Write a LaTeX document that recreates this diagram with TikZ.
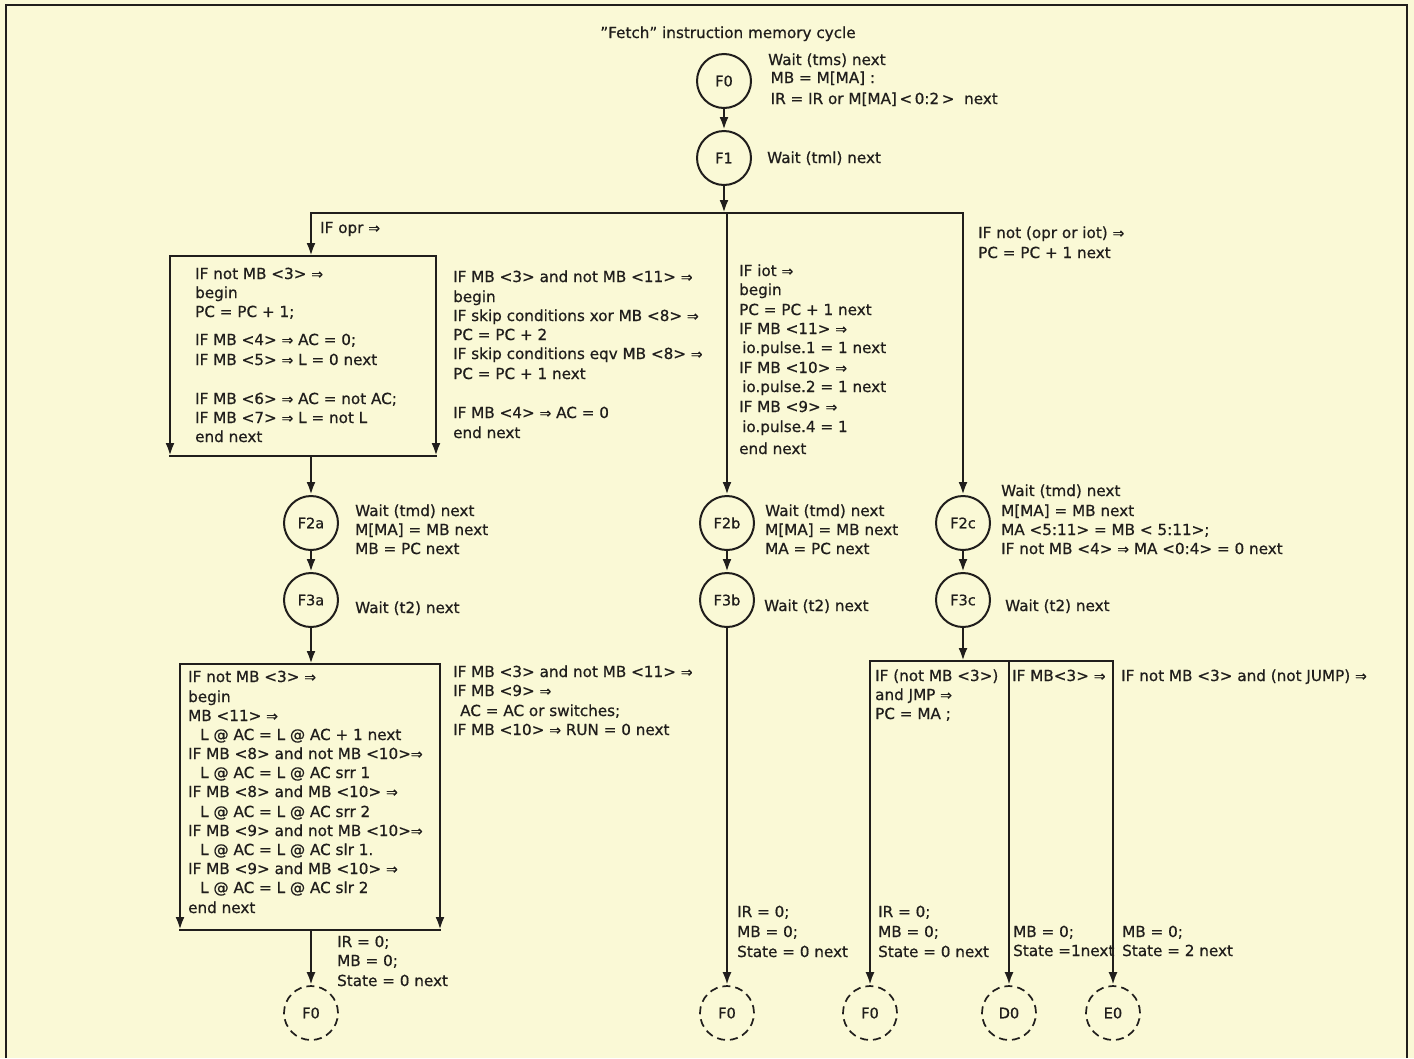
\documentclass[tikz,border=0pt]{standalone}
\usepackage{fontspec}
\setmainfont{DejaVu Sans}[FakeBold=0.7]
\usetikzlibrary{arrows.meta}
\definecolor{bg}{RGB}{250,249,214}
\definecolor{ink}{RGB}{32,30,28}
\newcommand\thn{{\fontsize{14}{14}\selectfont ⇒}}
\newcommand\txtblock[3]{%
  \foreach \ly/\lt [count=\li] in {#3} {\node[txt] (#1-\li) at (#2,\ly) {\lt};}}
\tikzset{
  txt/.style={anchor=base west, inner sep=0pt, text=ink, font=\fontsize{15.2}{18}\selectfont},
  state/.style={circle, draw=ink, line width=2pt, minimum size=54pt, inner sep=0pt,
    font=\fontsize{14.5}{17}\selectfont, text=ink},
  ghost/.style={state, dash pattern=on 8pt off 5pt, line width=1.7pt},
  flow/.style={draw=ink, line width=2.6pt, line cap=rect},
  flowa/.style={draw=ink, line width=2.6pt, -{Latex[length=13pt,width=9pt]}},
}
\begin{document}
\begin{tikzpicture}[x=1pt,y=-1pt]
\useasboundingbox (0,0) rectangle (1414,1058);
\fill[bg] (0,0) rectangle (1414,1058);
\draw[ink, line width=1.5pt] (6,1058) -- (6,5) -- (1407,5) -- (1407,1058);

% title
\node[txt, anchor=base] (title) at (728,38) {''Fetch'' instruction memory cycle};

% states
\node[state] (F0) at (724,81) {F0};
\node[state] (F1) at (724,158) {F1};
\node[state] (F2a) at (311,523) {F2a};
\node[state] (F3a) at (311,600) {F3a};
\node[state] (F2b) at (727,523) {F2b};
\node[state] (F3b) at (727,600) {F3b};
\node[state] (F2c) at (963,523) {F2c};
\node[state] (F3c) at (963,600) {F3c};
\node[ghost] (eF0a) at (311,1013) {F0};
\node[ghost] (eF0b) at (727,1013) {F0};
\node[ghost] (eF0c) at (870,1013) {F0};
\node[ghost] (eD0) at (1009,1013) {D0};
\node[ghost] (eE0) at (1113,1013) {E0};

% junction coordinates
\coordinate (j0) at (724,213);
\coordinate (jL) at (311,213);
\coordinate (jM) at (727,213);
\coordinate (jR) at (963,213);
\coordinate (b1tl) at (170,256); \coordinate (b1tr) at (436,256);
\coordinate (b1bl) at (170,456); \coordinate (b1br) at (436,456);
\coordinate (b1t) at (311,256);  \coordinate (b1b) at (311,456);
\coordinate (b2tl) at (180,664); \coordinate (b2tr) at (440,664);
\coordinate (b2bl) at (180,930); \coordinate (b2br) at (440,930);
\coordinate (b2t) at (311,664);  \coordinate (b2b) at (311,930);
\coordinate (rj) at (963,661);
\coordinate (rL) at (870,661); \coordinate (rM) at (1009,661); \coordinate (rR) at (1113,661);

% connectors
\draw[flowa] (F0) -- (F1);
\draw[flowa] (F1) -- (j0);
\draw[flow] (jL) -- (jR);
\draw[flowa] (jL) -- (b1t);
\draw[flowa] (jM) -- (F2b);
\draw[flowa] (jR) -- (F2c);
\draw[flow] (b1tl) -- (b1tr);
\draw[flowa] (b1tl) -- (b1bl);
\draw[flowa] (b1tr) -- (b1br);
\draw[flow] (b1bl) -- (b1br);
\draw[flowa] (b1b) -- (F2a);
\draw[flowa] (F2a) -- (F3a);
\draw[flowa] (F3a) -- (b2t);
\draw[flow] (b2tl) -- (b2tr);
\draw[flowa] (b2tl) -- (b2bl);
\draw[flowa] (b2tr) -- (b2br);
\draw[flow] (b2bl) -- (b2br);
\draw[flowa] (b2b) -- (eF0a);
\draw[flowa] (F2b) -- (F3b);
\draw[flowa] (F3b) -- (eF0b);
\draw[flowa] (F2c) -- (F3c);
\draw[flowa] (F3c) -- (rj);
\draw[flow] (rL) -- (rR);
\draw[flowa] (rL) -- (eF0c);
\draw[flowa] (rM) -- (eD0);
\draw[flowa] (rR) -- (eE0);

% texts
\txtblock{f0t}{768}{65/{Wait (tms) next}, 83/{\,MB = M[MA] :}, 104/{\,IR = IR or M[MA]\,<\,0:2\,>\ \ next}}
\txtblock{f1t}{767}{163/{Wait (tml) next}}
\txtblock{opr}{320}{233/{IF opr \thn}}
\txtblock{nopr}{978}{238/{IF not (opr or iot) \thn}, 258/{PC = PC + 1 next}}

\txtblock{bxa}{195}{279/{IF not MB <3> \thn}, 298/{begin}, 317/{PC = PC + 1;},
  345/{IF MB <4> \thn{} AC = 0;}, 365/{IF MB <5> \thn{} L = 0 next},
  404/{IF MB <6> \thn{} AC = not AC;}, 423/{IF MB <7> \thn{} L = not L}, 442/{end next}}
\txtblock{bxb}{453}{282/{IF MB <3> and not MB <11> \thn}, 302/{begin},
  321/{IF skip conditions xor MB <8> \thn}, 340/{PC = PC + 2},
  359/{IF skip conditions eqv MB <8> \thn}, 379/{PC = PC + 1 next},
  418/{IF MB <4> \thn{} AC = 0}, 438/{end next}}
\txtblock{iot}{739}{276/{IF iot \thn}, 295/{begin}, 315/{PC = PC + 1 next},
  334/{IF MB <11> \thn}, 353/{\hspace*{3pt}io.pulse.1 = 1 next}, 373/{IF MB <10> \thn},
  392/{\hspace*{3pt}io.pulse.2 = 1 next}, 412/{IF MB <9> \thn}, 432/{\hspace*{3pt}io.pulse.4 = 1},
  454/{end next}}

\txtblock{f2at}{355}{516/{Wait (tmd) next}, 535/{M[MA] = MB next}, 554/{MB = PC next}}
\txtblock{f3at}{355}{613/{Wait (t2) next}}
\txtblock{f2bt}{765}{516/{Wait (tmd) next}, 535/{M[MA] = MB next}, 554/{MA = PC next}}
\txtblock{f3bt}{764}{611/{Wait (t2) next}}
\txtblock{f2ct}{1001}{496/{Wait (tmd) next}, 516/{M[MA] = MB next},
  535/{MA <5:11> = MB < 5:11>;}, 554/{IF not MB <4> \thn{} MA <0:4> = 0 next}}
\txtblock{f3ct}{1005}{611/{Wait (t2) next}}

\txtblock{bxc}{188}{682/{IF not MB <3> \thn}, 702/{begin}, 721/{MB <11> \thn},
  740/{\hspace*{12pt}L @ AC = L @ AC + 1 next}, 759/{IF MB <8> and not MB <10>\thn},
  778/{\hspace*{12pt}L @ AC = L @ AC srr 1}, 797/{IF MB <8> and MB <10> \thn},
  817/{\hspace*{12pt}L @ AC = L @ AC srr 2}, 836/{IF MB <9> and not MB <10>\thn},
  855/{\hspace*{12pt}L @ AC = L @ AC slr 1.}, 874/{IF MB <9> and MB <10> \thn},
  893/{\hspace*{12pt}L @ AC = L @ AC slr 2}, 913/{end next}}
\txtblock{bxd}{453}{677/{IF MB <3> and not MB <11> \thn}, 696/{IF MB <9> \thn},
  716/{\hspace*{7pt}AC = AC or switches;}, 735/{IF MB <10> \thn{} RUN = 0 next}}

\txtblock{endl}{337}{947/{IR = 0;}, 966/{MB = 0;}, 986/{State = 0 next}}
\txtblock{endm}{737}{917/{IR = 0;}, 937/{MB = 0;}, 957/{State = 0 next}}
\txtblock{jmp}{875}{681/{IF (not MB <3>)}, 700/{and JMP \thn}, 719/{PC = MA ;}}
\txtblock{mb3}{1012}{681/{IF MB<3> \thn}}
\txtblock{nj}{1121}{681/{IF not MB <3> and (not JUMP) \thn}}
\txtblock{endc}{878}{917/{IR = 0;}, 937/{MB = 0;}, 957/{State = 0 next}}
\txtblock{endd}{1013}{937/{MB = 0;}, 956/{State =1next}}
\txtblock{ende}{1122}{937/{MB = 0;}, 956/{State = 2 next}}
\end{tikzpicture}
\end{document}
